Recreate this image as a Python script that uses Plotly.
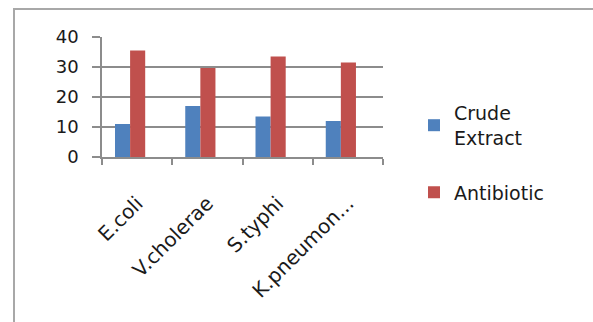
import plotly.graph_objects as go

# Zone of inhibition by organism
organisms = ["E.coli", "V.cholerae", "S.typhi", "K.pneumon..."]
crude_extract = [11, 17, 13.5, 12]
antibiotic = [35.5, 29.7, 33.5, 31.5]
y_ticks = [0, 10, 20, 30, 40]

BLUE = "#4f81bd"
RED = "#c0504d"
GRID = "#8c8c8c"

W, H = 593, 322
L, R, T, B = 102, 210, 37, 165

fig = go.Figure()
fig.add_trace(go.Bar(
    x=organisms, y=crude_extract, name="Crude<br>Extract",
    legendgroup="crude",
    marker=dict(color=BLUE, line=dict(width=0)),
    width=0.215, offset=-0.315,
))
fig.add_trace(go.Bar(
    x=organisms, y=antibiotic, name="Antibiotic",
    legendgroup="antibiotic",
    marker=dict(color=RED, line=dict(width=0)),
    width=0.215, offset=-0.10,
))

plot_w = W - L - R
plot_h = H - T - B

fig.update_layout(
    width=W, height=H,
    margin=dict(l=L, r=R, t=T, b=B, pad=0),
    paper_bgcolor="white", plot_bgcolor="white",
    barmode="group",
    font=dict(family="DejaVu Sans", color="#1a1a1a"),
    showlegend=True,
    legend=dict(
        x=(414 - L) / plot_w, xanchor="left",
        y=1 - (94 - T) / plot_h, yanchor="top",
        font=dict(family="DejaVu Sans", size=19, color="#1a1a1a"),
        bgcolor="rgba(0,0,0,0)",
        tracegroupgap=27,
        traceorder="grouped",
    ),
    shapes=[
        dict(type="rect", xref="paper", yref="paper",
             x0=(14 - L) / plot_w, x1=3.0,
             y0=-3.0, y1=1 + (T - 9) / plot_h,
             line=dict(color="#a8a8a8", width=2), layer="below"),
    ],
)

fig.update_xaxes(
    type="category", range=[-0.5, 3.5],
    showgrid=False, showline=True, linecolor=GRID, linewidth=1.5,
    ticks="outside", tickson="boundaries", ticklen=6, tickcolor=GRID, tickwidth=1.5,
    tickangle=-45, ticklabelstandoff=25,
    tickfont=dict(family="DejaVu Sans", size=20, color="#1a1a1a"),
)
fig.update_yaxes(
    range=[0, 40], tickvals=y_ticks,
    showgrid=True, gridcolor=GRID, gridwidth=1.5,
    showline=True, linecolor=GRID, linewidth=1.5,
    ticks="outside", ticklen=8, tickcolor=GRID, tickwidth=1.5,
    ticklabelstandoff=10,
    tickfont=dict(family="DejaVu Sans", size=18, color="#1a1a1a"),
    zeroline=False,
)

fig.write_html("out.html")
